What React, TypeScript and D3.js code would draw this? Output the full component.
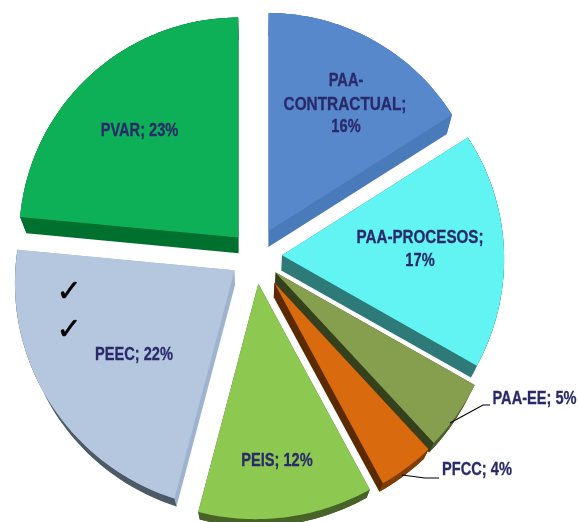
import React from "react";
import * as d3 from "d3";

const categories = ["PAA-CONTRACTUAL", "PAA-PROCESOS", "PAA-EE", "PFCC", "PEIS", "PEEC", "PVAR"];
const shares = [16, 17.2, 4.9, 4, 12, 22.4, 23.5];

// layout, one entry per slice
const topColors = ["#5688cb", "#62f4f2", "#869f50", "#d96a0d", "#8dc851", "#b4c7df", "#0eb057"];
const edgeColors = ["#4a7ab9", "#2d7a79", "#363f1f", "#5c2b02", "#47632a", "#9eb3ce", "#00702f"];
const rimColors = ["#4a7ab9", "#2d7a79", "#4f5f2e", "#803d06", "#47632a", "#4e5a66", "#00702f"];
const explode = [28.5, 27, 26, 33, 28, 25, 25];
const radiusStart = [218, 220, 229, 227, 234, 236, 219];
const radiusEnd = [217, 224, 233, 228, 236, 218, 220];

const labelLines = [
  { t: "PAA-", x: 346, y: 80, s: 0.77 },
  { t: "CONTRACTUAL;", x: 345, y: 103, s: 0.81 },
  { t: "16%", x: 346, y: 126, s: 0.77 },
  { t: "PAA-PROCESOS;", x: 420, y: 236, s: 0.8 },
  { t: "17%", x: 420, y: 260, s: 0.77 },
  { t: "PAA-EE; 5%", x: 534.5, y: 398, s: 0.77 },
  { t: "PFCC; 4%", x: 477, y: 469, s: 0.77 },
  { t: "PEIS; 12%", x: 277, y: 460, s: 0.77 },
  { t: "PEEC; 22%", x: 134, y: 354, s: 0.77 },
  { t: "PVAR; 23%", x: 139.5, y: 130, s: 0.77 },
];
const leaders: [number, number][][] = [
  [[450, 423], [483, 405], [490, 405]],
  [[402, 475], [425, 478], [439, 478]],
];
const checks = [{ x: 69, y: 290 }, { x: 69, y: 328 }];

const cx = 255;
const cy = 256;

function depthPoint([x, y]: [number, number]): [number, number] {
  return [x - (x - cx) * 0.027, y + 16 - (y - 230) * 0.03];
}

const pieLayout = d3.pie<number>().sort(null).value((d) => d)(shares);

const slices = pieLayout.map((p, i) => {
  const mid = (p.startAngle + p.endAngle) / 2;
  const ox = cx + explode[i] * Math.sin(mid);
  const oy = cy - explode[i] * Math.cos(mid);
  const rScale = d3.scaleLinear().domain([p.startAngle, p.endAngle]).range([radiusStart[i], radiusEnd[i]]);
  const angles = d3.range(0, 41).map((k) => p.startAngle + ((p.endAngle - p.startAngle) * k) / 40);
  const arcPts: [number, number][] = angles.map((a) => [ox + rScale(a) * Math.sin(a), oy - rScale(a) * Math.cos(a)]);
  const top: [number, number][] = [[ox, oy], ...arcPts];
  const hull = d3.polygonHull([...top, ...top.map(depthPoint)]) as [number, number][];
  const rim: [number, number][] = [...arcPts, ...arcPts.map(depthPoint).reverse()];
  return { i, top, hull, rim };
});

const line = d3.line();

export default function App() {
  return (
    <svg
      width={579}
      height={522}
      viewBox="0 0 579 522"
      style={{ position: "absolute", left: 0, top: 0, display: "block", background: "#fff" }}
    >
      <defs>
        <filter id="soft" x="-5%" y="-5%" width="110%" height="110%">
          <feGaussianBlur stdDeviation="0.4" />
        </filter>
      </defs>
      <g filter="url(#soft)">
        {slices.map((s) => (
          <g key={categories[s.i]}>
            <path d={line(s.hull) + "Z"} fill={edgeColors[s.i]} />
            <path d={line(s.rim) + "Z"} fill={rimColors[s.i]} />
            <path d={line(s.top) + "Z"} fill={topColors[s.i]} />
          </g>
        ))}
        {leaders.map((l, i) => (
          <path key={i} d={line(l) as string} fill="none" stroke="#000" strokeWidth={1.2} />
        ))}
        {labelLines.map((l, i) => (
          <text
            key={i}
            transform={`translate(${l.x},${l.y}) scale(${l.s},1)`}
            textAnchor="middle"
            dominantBaseline="central"
            fontFamily="'Liberation Sans', Arial, sans-serif"
            fontWeight="bold"
            fontSize={19}
            stroke="#2a2a6a"
            strokeWidth={0.3}
            fill="#2a2a6a"
          >
            {l.t}
          </text>
        ))}
        {checks.map((c, i) => (
          <text
            key={i}
            x={c.x}
            y={c.y}
            textAnchor="middle"
            dominantBaseline="central"
            fontFamily="'DejaVu Sans', sans-serif"
            fontWeight="bold"
            fontSize={30}
            stroke="#000"
            strokeWidth={0.5}
            fill="#000"
          >
            ✓
          </text>
        ))}
      </g>
    </svg>
  );
}
